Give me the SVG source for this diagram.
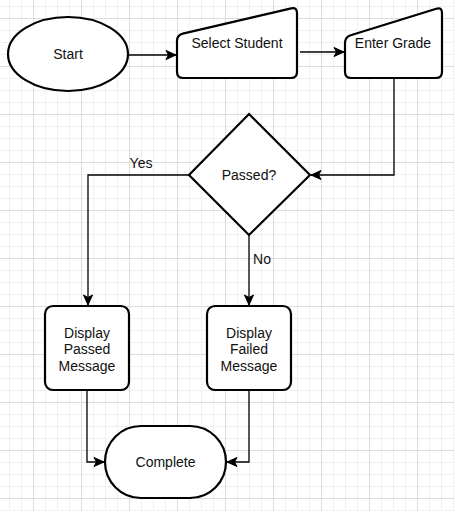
<svg xmlns="http://www.w3.org/2000/svg" width="454" height="511" viewBox="0 0 454 511">
<style>
.shape{fill:#ffffff;stroke:#000000;stroke-width:2.2}
.edge{fill:none;stroke:#000000;stroke-width:1.3}
.t{font-family:"Liberation Sans",Arial,sans-serif;font-size:14px;fill:#111111;text-anchor:middle}
.minor{stroke:#f0f0f0;stroke-width:1}
.major{stroke:#dcdcdc;stroke-width:1}
</style>
<defs>
<pattern id="grid" x="33" y="18" width="48" height="48" patternUnits="userSpaceOnUse">
<path class="minor" d="M12.5,0V48M24.5,0V48M36.5,0V48M0,12.5H48M0,24.5H48M0,36.5H48"/>
<path class="major" d="M0.5,0V48M0,0.5H48"/>
</pattern>
<marker id="arr" markerUnits="userSpaceOnUse" markerWidth="12" markerHeight="12" viewBox="-11 -6 12 12" refX="0" refY="0" orient="auto">
<path d="M0,0L-10,-4.5L-7.5,0L-10,4.5Z" fill="#000000" stroke="#000000" stroke-width="1"/>
</marker>
</defs>
<rect x="0" y="0" width="454" height="511" fill="#ffffff"/>
<rect x="0" y="0" width="454" height="511" fill="url(#grid)"/>
<g id="connectors">
<path class="edge" d="M128,55H176" marker-end="url(#arr)"/>
<path class="edge" d="M300,52H344" marker-end="url(#arr)"/>
<path class="edge" d="M394,78V175H311" marker-end="url(#arr)"/>
<path class="edge" d="M189,175H88V305" marker-end="url(#arr)"/>
<path class="edge" d="M249,234V305" marker-end="url(#arr)"/>
<path class="edge" d="M87,390V462H104" marker-end="url(#arr)"/>
<path class="edge" d="M249,390V462H227" marker-end="url(#arr)"/>
<text class="t" x="141" y="168">Yes</text>
<text class="t" x="262" y="264">No</text>
</g>
<g id="start">
<ellipse class="shape" cx="68" cy="54" rx="60" ry="37"/>
<text class="t" x="68" y="59">Start</text>
</g>
<g id="select-student">
<path class="shape" d="M177,41Q177,35 182.8,33.6L291.2,8.4Q297,7 297,13L297,72Q297,78 291,78L183,78Q177,78 177,72Z"/>
<text class="t" x="237" y="48">Select Student</text>
</g>
<g id="enter-grade">
<path class="shape" d="M345,43Q345,37 350.7,35.2L436.3,8.8Q442,7 442,13L442,72Q442,78 436,78L351,78Q345,78 345,72Z"/>
<text class="t" x="393" y="48">Enter Grade</text>
</g>
<g id="passed">
<path class="shape" d="M249,114L310,175L249,235L189,175Z"/>
<text class="t" x="249" y="180">Passed?</text>
</g>
<g id="display-passed">
<rect class="shape" x="45" y="306" width="84" height="84" rx="8"/>
<text class="t" x="87" y="338">Display</text>
<text class="t" x="87" y="354">Passed</text>
<text class="t" x="87" y="371">Message</text>
</g>
<g id="display-failed">
<rect class="shape" x="207" y="306" width="84" height="84" rx="8"/>
<text class="t" x="249" y="338">Display</text>
<text class="t" x="249" y="354">Failed</text>
<text class="t" x="249" y="371">Message</text>
</g>
<g id="complete">
<rect class="shape" x="105" y="426" width="121" height="72" rx="36"/>
<text class="t" x="165.5" y="467">Complete</text>
</g>
</svg>
